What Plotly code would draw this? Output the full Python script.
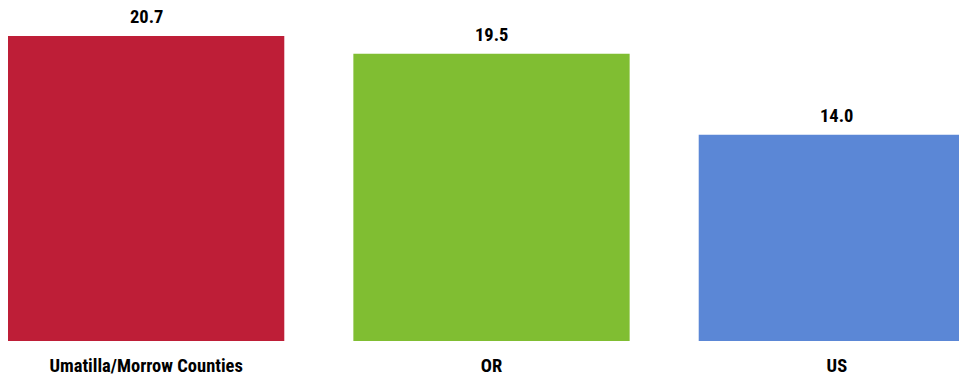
import plotly.graph_objects as go

categories = ["Umatilla/Morrow Counties", "OR", "US"]
values = [20.7, 19.5, 14.0]
value_labels = ["20.7", "19.5", "14.0"]
colors = ["#BE1E37", "#80BE32", "#5B87D6"]

FONT = "Roboto Condensed, Liberation Sans Narrow, Arial Narrow, sans-serif"
xs = list(range(len(categories)))

fig = go.Figure(go.Bar(x=xs, y=values, width=0.8, marker=dict(color=colors, line=dict(width=0)),
                       hoverinfo="skip"))
for x, v, t in zip(xs, values, value_labels):
    fig.add_annotation(x=x, y=v, text="<b>%s</b>" % t, showarrow=False, yanchor="bottom", yshift=6,
                       font=dict(family=FONT, size=18.5, color="#000000"))

fig.update_layout(
    width=967, height=377, margin=dict(l=0, r=0, t=0, b=44),
    paper_bgcolor="white", plot_bgcolor="white", showlegend=False,
    xaxis=dict(range=[-0.4, 2.4], tickvals=xs, ticktext=["<b>%s</b>" % c for c in categories],
               showgrid=False, zeroline=False, showline=False, ticks="", ticklabelstandoff=11,
               tickfont=dict(family=FONT, size=18.5, color="#000000")),
    yaxis=dict(range=[0, 22.6], visible=False),
)
fig.write_html("out.html")
